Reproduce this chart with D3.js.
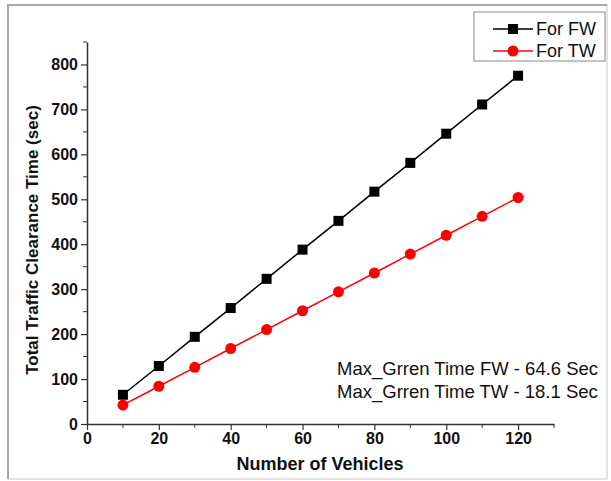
<!DOCTYPE html>
<html>
<head>
<meta charset="utf-8">
<script src="https://cdnjs.cloudflare.com/ajax/libs/d3/7.8.5/d3.min.js"></script>
<style>
  body { margin: 0; background: #fff; }
  svg { display: block; font-family: "Liberation Sans", Arial, sans-serif; }
</style>
</head>
<body>
<svg id="chart" width="611" height="481"></svg>
<script>
// data
const vehicles = [10, 20, 30, 40, 50, 60, 70, 80, 90, 100, 110, 120];
const forFW = [65, 129, 194, 258, 323, 388, 452, 517, 581, 646, 711, 775];
const forTW = [42, 84, 126, 168, 210, 252, 294, 336, 378, 420, 462, 504];
const xTicks = [0, 20, 40, 60, 80, 100, 120];
const yTicks = [0, 100, 200, 300, 400, 500, 600, 700, 800];
const notes = ["Max_Grren Time FW - 64.6 Sec", "Max_Grren Time TW - 18.1 Sec"];

const svg = d3.select('#chart');

// outer frame
svg.append('rect')
  .attr('x', 8).attr('y', 5)
  .attr('width', 599).attr('height', 474)
  .attr('fill', 'none')
  .attr('stroke', '#c8c8c8')
  .attr('stroke-width', 1);
svg.append('path')
  .attr('d', 'M8,479V5H607')
  .attr('fill', 'none')
  .attr('stroke', '#a8a8a8')
  .attr('stroke-width', 2);

const x = d3.scaleLinear().domain([0, 130]).range([87, 554]);
const y = d3.scaleLinear().domain([0, 850]).range([424, 42]);

// minor ticks
const xMinor = d3.range(10, 131, 20);
const yMinor = d3.range(50, 851, 100);

const xAxis = svg.append('g')
  .attr('transform', `translate(0,${y(0)})`)
  .call(d3.axisBottom(x).tickValues(xTicks).tickSize(6).tickPadding(3).tickSizeOuter(0));
xAxis.append('g').selectAll('line')
  .data(xMinor).join('line')
  .attr('x1', d => x(d)).attr('x2', d => x(d))
  .attr('y1', 0).attr('y2', 4)
  .attr('stroke', '#333');

const yAxis = svg.append('g')
  .attr('transform', `translate(${x(0)},0)`)
  .call(d3.axisLeft(y).tickValues(yTicks).tickSize(6).tickPadding(3).tickSizeOuter(0));
yAxis.append('g').selectAll('line')
  .data(yMinor).join('line')
  .attr('y1', d => y(d)).attr('y2', d => y(d))
  .attr('x1', 0).attr('x2', -4)
  .attr('stroke', '#333');

svg.selectAll('.domain').attr('stroke', '#333').attr('stroke-width', 1.5);
svg.selectAll('.tick line').attr('stroke', '#333').attr('stroke-width', 1.2);
svg.selectAll('.tick text')
  .attr('font-family', '"Liberation Sans", Arial, sans-serif')
  .attr('font-size', 16)
  .attr('font-weight', 'bold')
  .attr('fill', '#111');

// axis titles
svg.append('text')
  .attr('x', 320).attr('y', 470)
  .attr('text-anchor', 'middle')
  .attr('font-size', 18).attr('font-weight', 'bold')
  .attr('fill', '#111')
  .text('Number of Vehicles');
svg.append('text')
  .attr('transform', 'translate(38,240) rotate(-90)')
  .attr('text-anchor', 'middle')
  .attr('font-size', 17).attr('font-weight', 'bold')
  .attr('fill', '#111')
  .text('Total Traffic Clearance Time (sec)');

// series
const series = [
  { name: 'For FW', values: forFW, color: '#000000', shape: 'square' },
  { name: 'For TW', values: forTW, color: '#ff0000', shape: 'circle' }
];

const line = d3.line()
  .x((d, i) => x(vehicles[i]))
  .y(d => y(d));

function drawMarker(g, shape, color) {
  if (shape === 'square') {
    g.append('rect')
      .attr('x', -5).attr('y', -5)
      .attr('width', 10).attr('height', 10)
      .attr('fill', color);
  } else {
    g.append('circle').attr('r', 5.5).attr('fill', color);
  }
}

series.forEach(s => {
  svg.append('path')
    .datum(s.values)
    .attr('d', line)
    .attr('fill', 'none')
    .attr('stroke', s.color)
    .attr('stroke-width', 1.5);
  s.values.forEach((v, i) => {
    const g = svg.append('g').attr('transform', `translate(${x(vehicles[i])},${y(v)})`);
    drawMarker(g, s.shape, s.color);
  });
});

// legend
const legend = svg.append('g');
legend.append('rect')
  .attr('x', 474).attr('y', 12)
  .attr('width', 131).attr('height', 49)
  .attr('fill', '#fff')
  .attr('stroke', '#888')
  .attr('stroke-width', 1);
series.forEach((s, i) => {
  const ly = 29 + i * 22;
  legend.append('line')
    .attr('x1', 493).attr('x2', 533)
    .attr('y1', ly).attr('y2', ly)
    .attr('stroke', s.color).attr('stroke-width', 1.5);
  const g = legend.append('g').attr('transform', `translate(513,${ly})`);
  drawMarker(g, s.shape, s.color);
  legend.append('text')
    .attr('x', 536).attr('y', ly + 6)
    .attr('font-size', 18)
    .attr('fill', '#111')
    .text(s.name);
});

// annotation
notes.forEach((t, i) => {
  svg.append('text')
    .attr('x', 337).attr('y', 375 + i * 23)
    .attr('font-size', 18.5)
    .attr('fill', '#111')
    .text(t);
});
</script>
</body>
</html>
